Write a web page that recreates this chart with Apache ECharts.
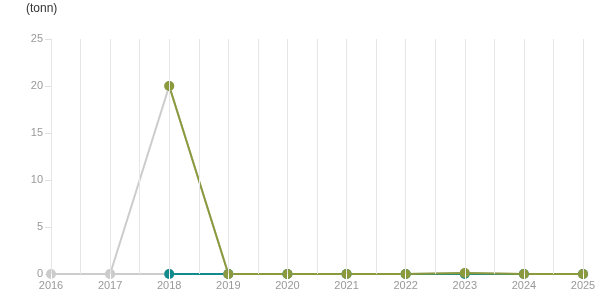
<!DOCTYPE html>
<html><head><meta charset="utf-8">
<script src="https://cdn.jsdelivr.net/npm/echarts@6/dist/echarts.min.js"></script>
<style>html,body{margin:0;padding:0;background:#fff}#c{width:615px;height:305px}</style>
</head><body><div id="c"></div>
<script>
var years = [2016,2017,2018,2019,2020,2021,2022,2023,2024,2025];
var greyBase = [0,0,0,0,0,0,0,0.1,0,0];
var greyJump = [null,0,20,0,null,null,null,null,null,null];
var tealVals = [null,null,0,0,0,0,0,0,0,0];
var greenVals = [null,null,20,0,0,0,0,0.1,0,0];
var yTicks = [0,5,10,15,20,25];

function pairs(v){ var o=[]; for(var i=0;i<years.length;i++){ if(v[i]!==null) o.push([years[i],v[i]]); } return o; }

var chart = echarts.init(document.getElementById('c'), null, {renderer:'canvas'});
function mk(name, vals, color, showSym){
  return {name:name, type:'line', data:pairs(vals), symbol:'circle', symbolSize:10,
    showSymbol:showSym, lineStyle:{color:color, width:2}, itemStyle:{color:color}, animation:false};
}
chart.setOption({
  animation:false,
  title:{text:'(tonn)', left:26, top:3, padding:0, textStyle:{fontSize:12, fontWeight:'normal', color:'#333', fontFamily:'Arial'}},
  grid:{left:51, right:32, top:39, bottom:31},
  xAxis:{type:'value', min:2016, max:2025, interval:1, z:5,
    axisLine:{show:false},
    axisTick:{show:true, inside:false, length:5, lineStyle:{color:'#ffffff', width:1}},
    axisLabel:{color:'#999', fontSize:11, fontFamily:'Arial', margin:6, formatter:function(v){return String(v);}},
    splitLine:{show:true, lineStyle:{color:'#e6e6e6'}},
    minorTick:{show:false, splitNumber:2},
    minorSplitLine:{show:true, lineStyle:{color:'#e6e6e6'}}},
  yAxis:{type:'value', min:0, max:25, interval:5,
    axisLine:{show:true, lineStyle:{color:'#e0e0e0'}},
    axisTick:{show:true, length:6, lineStyle:{color:'#e0e0e0'}},
    axisLabel:{color:'#999', fontSize:11, fontFamily:'Arial', margin:8},
    splitLine:{show:false}},
  series:[
    mk('a', greyBase, '#cccccc', true),
    mk('b', greyJump, '#cccccc', true),
    mk('c', tealVals, '#138a8c', true),
    mk('d', greenVals, '#8a9a3c', true)
  ]
});
</script></body></html>
